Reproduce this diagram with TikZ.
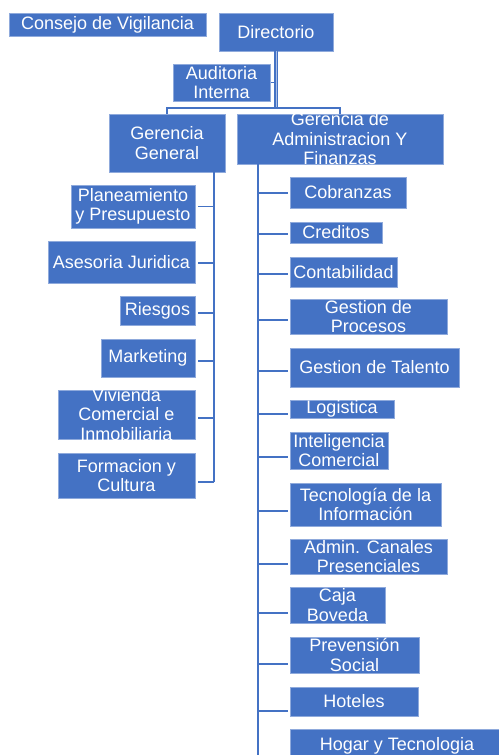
\documentclass[tikz,border=0pt]{standalone}
\usepackage{fontspec}
\setmainfont{Liberation Sans}
\definecolor{boxblue}{HTML}{4472C4}
\definecolor{boxedge}{HTML}{8FAADC}
\definecolor{linelight}{HTML}{A9BEE6}
\begin{document}
\begin{tikzpicture}[x=1pt,y=-1pt,
  box/.style={fill=boxblue, draw=boxedge, line width=0.7pt, inner sep=0pt, outer sep=0pt},
  lab/.style={text=white, align=center, inner sep=0pt, font=\fontsize{18}{19.5}\selectfont},
  conn/.style={draw=boxblue, line width=1.8pt}]
\useasboundingbox (0,0) rectangle (498,755);
% top level
\node[box, minimum width=197, minimum height=23, label={[lab]center:Consejo de Vigilancia}] (cv) at (107.5,24.5) {};
\node[box, minimum width=114, minimum height=38, label={[lab]center:Directorio}] (dir) at (276,32) {};
\node[box, minimum width=97, minimum height=37, label={[lab]center:{Auditoria\\Interna}}] (aud) at (221.5,82.5) {};
\node[box, minimum width=116, minimum height=58, label={[lab]center:{Gerencia\\General}}] (gg) at (167,143) {};
\node[box, minimum width=206, minimum height=50, label={[lab]center:{Gerencia de\\Administracion Y\\Finanzas}}] (gaf) at (340,139) {};
% left column
\node[box, minimum width=124, minimum height=43, label={[lab]center:{Planeamiento\\y Presupuesto}}] (plan) at (133,206.5) {};
\node[box, minimum width=147, minimum height=42, label={[lab]center:Asesoria Juridica}] (ase) at (121.5,262) {};
\node[box, minimum width=75, minimum height=29, label={[lab]center:Riesgos}] (rie) at (157.5,310.5) {};
\node[box, minimum width=94, minimum height=38, label={[lab]center:Marketing}] (mkt) at (148,358) {};
\node[box, minimum width=137, minimum height=49, label={[lab]center:{Vivienda\\Comercial e\\Inmobiliaria}}] (viv) at (126.5,414.5) {};
\node[box, minimum width=137, minimum height=45, label={[lab]center:{Formacion y\\Cultura}}] (for) at (126.5,475.5) {};
% right column
\node[box, minimum width=116, minimum height=31, label={[lab]center:Cobranzas}] (cob) at (348,192.5) {};
\node[box, minimum width=92, minimum height=21, label={[lab]center:Creditos}] (cre) at (336,232.5) {};
\node[box, minimum width=107, minimum height=30, label={[lab]center:Contabilidad}] (con) at (343.5,272) {};
\node[box, minimum width=157, minimum height=35, label={[lab]center:{Gestion de\\Procesos}}] (gpr) at (368.5,316.5) {};
\node[box, minimum width=169, minimum height=39, label={[lab]center:Gestion de Talento}] (gta) at (374.5,367.5) {};
\node[box, minimum width=104, minimum height=18, label={[lab]center:Logistica}] (log) at (342,409) {};
\node[box, minimum width=98, minimum height=37, label={[lab]center:{Inteligencia\\Comercial}}] (int) at (339,450.5) {};
\node[box, minimum width=151, minimum height=43, label={[lab]center:{Tecnología de la\\Información}}] (tec) at (365.5,504.5) {};
\node[box, minimum width=157, minimum height=35, label={[lab]center:{Admin. Canales\\Presenciales}}] (adm) at (368.5,556.5) {};
\node[box, minimum width=95, minimum height=36, label={[lab]center:{Caja\\Boveda}}] (caj) at (337.5,605) {};
\node[box, minimum width=129, minimum height=36, label={[lab]center:{Prevensión\\Social}}] (pre) at (354.5,655) {};
\node[box, minimum width=128, minimum height=29, label={[lab]center:Hoteles}] (hot) at (354,701.5) {};
\node[box, minimum width=214, minimum height=38] (hog) at (397,748) {};
\node[lab] (hogt) at (397,746) {Hogar y Tecnologia};
% helper coordinates
\coordinate (bar) at (0,108);
\coordinate (ls) at (214,0);
\coordinate (rs) at (258,0);
\coordinate (rbot) at (258,756);
% connectors top
\draw[draw=boxblue, line width=1.1pt, double=linelight, double distance=1pt] (dir.south) -- (dir.south |- bar);
\draw[draw=boxblue, line width=1.2pt] ([xshift=1pt]aud.east) -- (aud.east -| dir.south);
\draw[draw=boxblue, line width=1.5pt] (gg.north) -- (gg.north |- bar) -- (gaf.north |- bar) -- (gaf.north);
% left spine
\draw[conn] (gg.south -| ls) -- ([yshift=-6.5pt]for.east -| ls);
\foreach \n/\d in {plan/0, ase/-1, rie/-2.5, mkt/-3, viv/-3.5, for/-6.5}
  \draw[conn] ([yshift=\d pt]\n.east -| ls) -- ([xshift=3pt,yshift=\d pt]\n.east);
% right spine
\draw[conn] (gaf.south -| rs) -- (rbot);
\foreach \n/\d in {cob/-0.5, cre/-1.5, con/-2, gpr/-3.5, gta/-3.5, log/-5, int/-6.5, tec/-6.5, adm/-7.5, caj/-8, pre/-9, hot/-9.5}
  \draw[conn] ([yshift=\d pt]\n.west -| rs) -- ([xshift=-2pt,yshift=\d pt]\n.west);
\draw[draw=linelight, line width=1.8pt] ([yshift=-7.5pt]hog.west -| rs) -- ([xshift=-2pt,yshift=-7.5pt]hog.west);
\end{tikzpicture}
\end{document}
